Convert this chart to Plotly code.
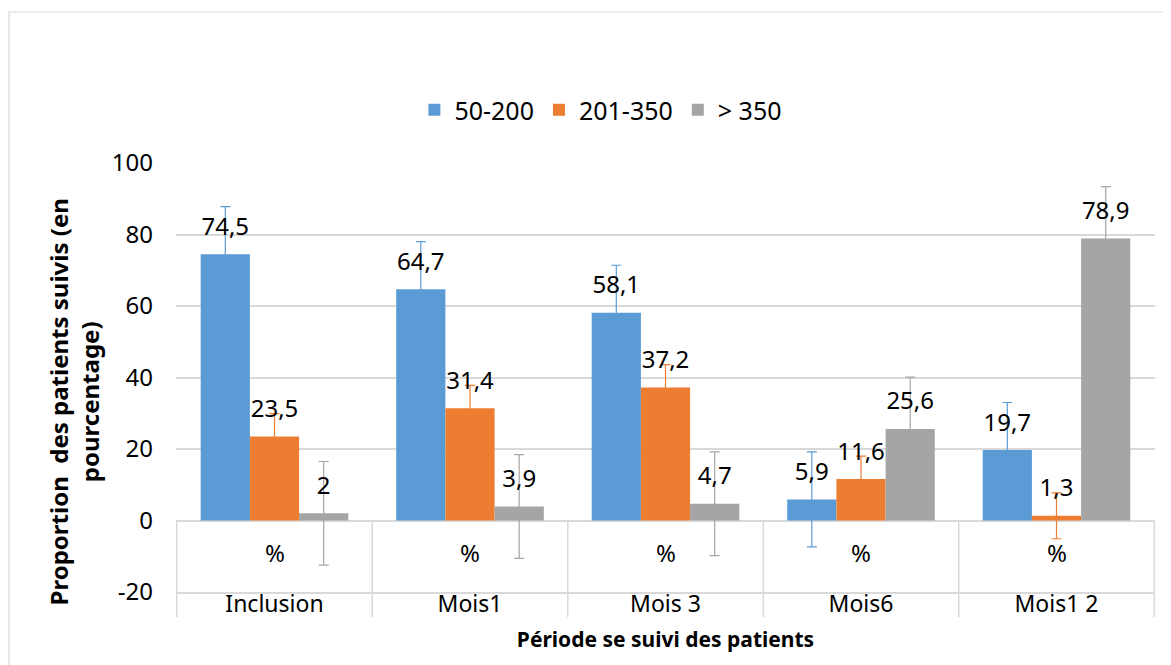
import plotly.graph_objects as go

categories = ["Inclusion", "Mois1", "Mois 3", "Mois6", "Mois1 2"]
series_names = ["50-200", "201-350", "> 350"]
vals_50_200 = [74.5, 64.7, 58.1, 5.9, 19.7]
vals_201_350 = [23.5, 31.4, 37.2, 11.6, 1.3]
vals_350 = [2, 3.9, 4.7, 25.6, 78.9]
errors = [13.3, 6.4, 14.5]
colors = ["#5B9BD5", "#ED7D31", "#A5A5A5"]
unit_label = "%"
y_ticks = [-20, 0, 20, 40, 60, 80, 100]
y_min, y_max = -20, 100

FONT = "Noto Sans"
series_vals = [vals_50_200, vals_201_350, vals_350]


def fr(v):
    return f"{v:g}".replace(".", ",")


fig = go.Figure()

for name, vals, err, col in zip(series_names, series_vals, errors, colors):
    fig.add_trace(go.Bar(
        x=categories, y=vals, name=name,
        marker=dict(color=col, line=dict(width=0)),
        offsetgroup=name,
        error_y=dict(type="constant", value=err, color=col, thickness=1.2, width=5),
    ))

# value labels, grouped like the bars
for name, vals in zip(series_names, series_vals):
    fig.add_trace(go.Scatter(
        x=categories, y=vals, mode="markers+text",
        text=[fr(v) for v in vals], textposition="top center",
        textfont=dict(family=FONT, size=24, color="#000000"),
        marker=dict(size=20, color="rgba(0,0,0,0)"),
        offsetgroup=name, showlegend=False, hoverinfo="skip", cliponaxis=False,
    ))

# "%" under each category
for c in categories:
    fig.add_annotation(x=c, y=-9, text=unit_label, showarrow=False,
                       font=dict(family=FONT, size=24, color="#000000"))

# separators between categories in the axis band
zero_paper = (0 - y_min) / (y_max - y_min)
for i in range(len(categories) + 1):
    fig.add_shape(type="line", xref="x", yref="paper",
                  x0=i - 0.5, x1=i - 0.5, y0=zero_paper, y1=-0.058,
                  line=dict(color="#d9d9d9", width=1.5))

# outer chart border
fig.add_shape(type="rect", xref="paper", yref="paper",
              x0=-0.1706, x1=1.2, y0=-0.4, y1=1.352,
              line=dict(color="#d9d9d9", width=1.2))

fig.add_annotation(xref="paper", yref="paper", x=0, y=0.5, xanchor="center", yanchor="middle",
                   xshift=-103, yshift=-25,
                   text="<b>Proportion&nbsp; des patients suivis (en<br>pourcentage)</b>",
                   textangle=-90, showarrow=False,
                   font=dict(family=FONT, size=24, color="#000000"))

fig.update_layout(
    width=1171, height=665,
    margin=dict(l=168, r=24, t=155, b=81),
    paper_bgcolor="white", plot_bgcolor="white",
    barmode="group", bargap=0.245, bargroupgap=0,
    scattermode="group", scattergap=0.245,
    font=dict(family=FONT, size=24, color="#000000"),
    legend=dict(orientation="h", x=0.434, xanchor="center", y=1.1235, yanchor="middle",
                font=dict(family=FONT, size=25), traceorder="normal"),
    xaxis=dict(
        showgrid=False, showline=True, linecolor="#d9d9d9", linewidth=1.5,
        ticks="", tickfont=dict(family=FONT, size=23), ticklabelstandoff=-9,
        title=dict(text="<b>Période se suivi des patients</b>",
                   font=dict(family=FONT, size=21), standoff=14),
    ),
    yaxis=dict(
        range=[y_min, y_max], tickmode="array", tickvals=y_ticks,
        ticktext=[str(v) for v in y_ticks],
        showgrid=True, gridcolor="#d9d9d9", gridwidth=1.5,
        zeroline=True, zerolinecolor="#d9d9d9", zerolinewidth=1.5,
        showline=False, ticks="", ticklabelstandoff=22,
        tickfont=dict(family=FONT, size=24),
    ),
    showlegend=True,
)

fig.write_html("out.html")
